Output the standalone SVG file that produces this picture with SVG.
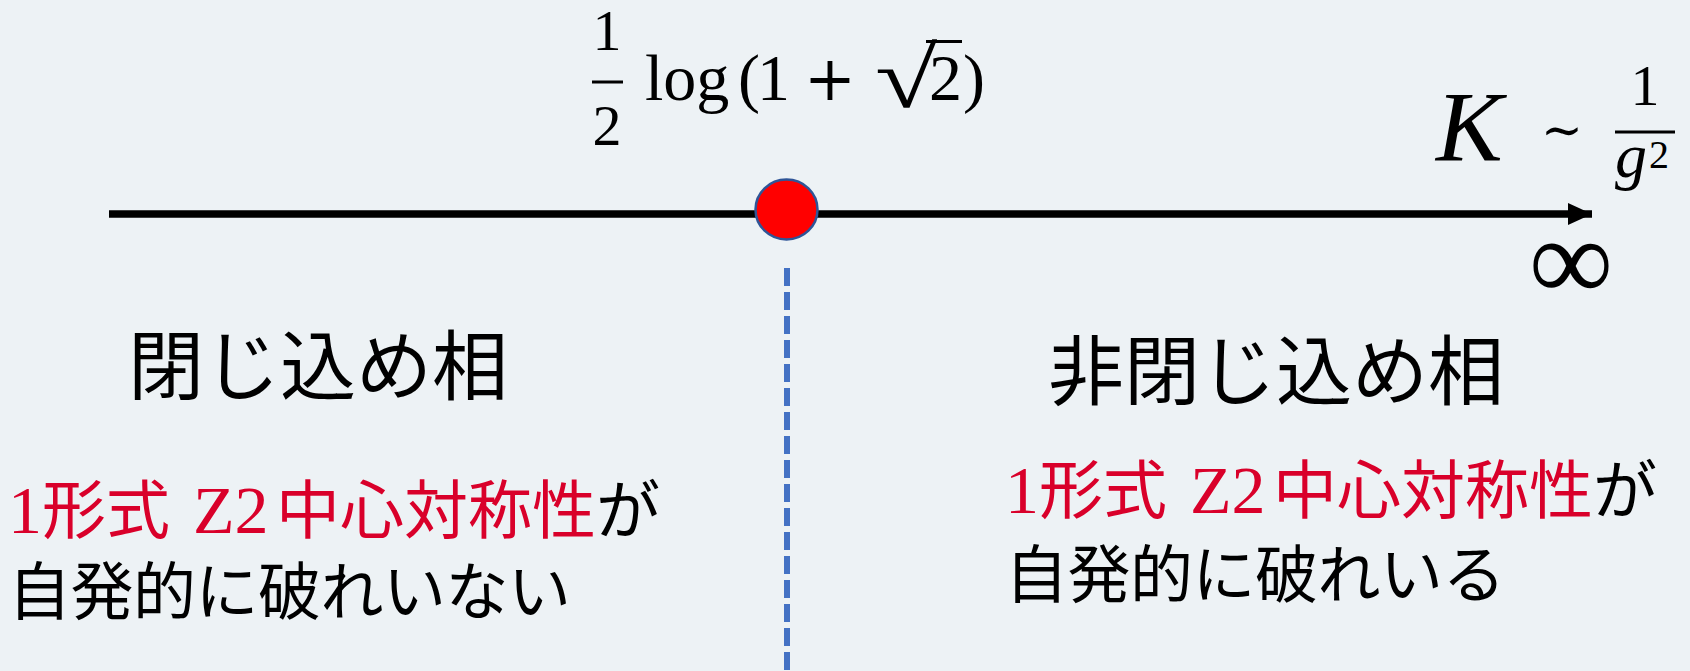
<svg xmlns="http://www.w3.org/2000/svg" width="1690" height="671" viewBox="0 0 1690 671">
<defs>
<style>
.math{font-family:"Liberation Serif","DejaVu Serif",serif;fill:#000}
.dv{font-family:"DejaVu Serif",serif}
.it{font-style:italic}
.jp{font-family:"Noto Sans CJK JP",sans-serif;fill:#000;font-size:64px}
.lat{font-family:"Liberation Serif",serif;font-size:68px}
.red{fill:#d9002a}
.bar{stroke:#000;stroke-width:3}
</style>
<marker id="arr" markerUnits="userSpaceOnUse" markerWidth="26" markerHeight="24" refX="24" refY="12" orient="auto">
<path d="M0,1 L24,12 L0,23 Z" fill="#000"/>
</marker>
</defs>
<rect width="1690" height="671" fill="#edf2f5"/>
<g id="connectors">
<line x1="109" y1="214" x2="1592" y2="214" stroke="#000" stroke-width="7.5" marker-end="url(#arr)"/>
<line x1="787" y1="268" x2="787" y2="671" stroke="#4472c4" stroke-width="6" stroke-dasharray="18 6"/>
</g>
<g id="critical-point">
<ellipse cx="786.5" cy="209.5" rx="31" ry="30" fill="#ff0000" stroke="#2f5597" stroke-width="2.5"/>
</g>
<g id="label-critical" class="math">
<text x="607" y="50" font-size="58" text-anchor="middle">1</text>
<line class="bar" x1="592" y1="82" x2="623" y2="82"/>
<text x="607" y="145" font-size="58" text-anchor="middle">2</text>
<text x="645" y="100" font-size="66">log</text>
<text x="738" y="100" font-size="66">(</text>
<text x="757" y="100" font-size="66">1</text>
<text class="dv" x="830" y="100" font-size="62" text-anchor="middle">+</text>
<text transform="translate(875,107) scale(1.32,1)" font-size="86">√</text>
<line class="bar" x1="926" y1="41.5" x2="962" y2="41.5"/>
<text x="929" y="100" font-size="66">2</text>
<text x="963" y="100" font-size="66">)</text>
</g>
<g id="label-axis" class="math">
<text class="it" x="1436" y="160" font-size="100">K</text>
<text class="dv" x="1541" y="147" font-size="50">∼</text>
<text x="1645" y="105" font-size="58" text-anchor="middle">1</text>
<line class="bar" x1="1615" y1="132" x2="1675" y2="132"/>
<text class="it" x="1615" y="177" font-size="64">g</text>
<text x="1649" y="168" font-size="40">2</text>
<text x="1529" y="300" font-size="118">∞</text>
</g>
<g id="phase-confined">
<text class="jp" x="128" y="394" style="font-size:76px">閉じ込め相</text>
<text class="jp red lat" x="8" y="533">1</text>
<text class="jp red" x="42" y="533">形式</text>
<text class="jp red lat" x="193" y="533">Z2</text>
<text class="jp red" x="276" y="533">中心対称性</text>
<text class="jp" x="596" y="533">が</text>
<text class="jp" x="8" y="614" style="font-size:63px" letter-spacing="-0.5">自発的に破れいない</text>
</g>
<g id="phase-deconfined">
<text class="jp" x="1048" y="399" style="font-size:76px">非閉じ込め相</text>
<text class="jp red lat" x="1005" y="513">1</text>
<text class="jp red" x="1039" y="513">形式</text>
<text class="jp red lat" x="1190" y="513">Z2</text>
<text class="jp red" x="1273" y="513">中心対称性</text>
<text class="jp" x="1593" y="513">が</text>
<text class="jp" x="1005" y="597" style="font-size:63px" letter-spacing="-0.5">自発的に破れいる</text>
</g>
</svg>
